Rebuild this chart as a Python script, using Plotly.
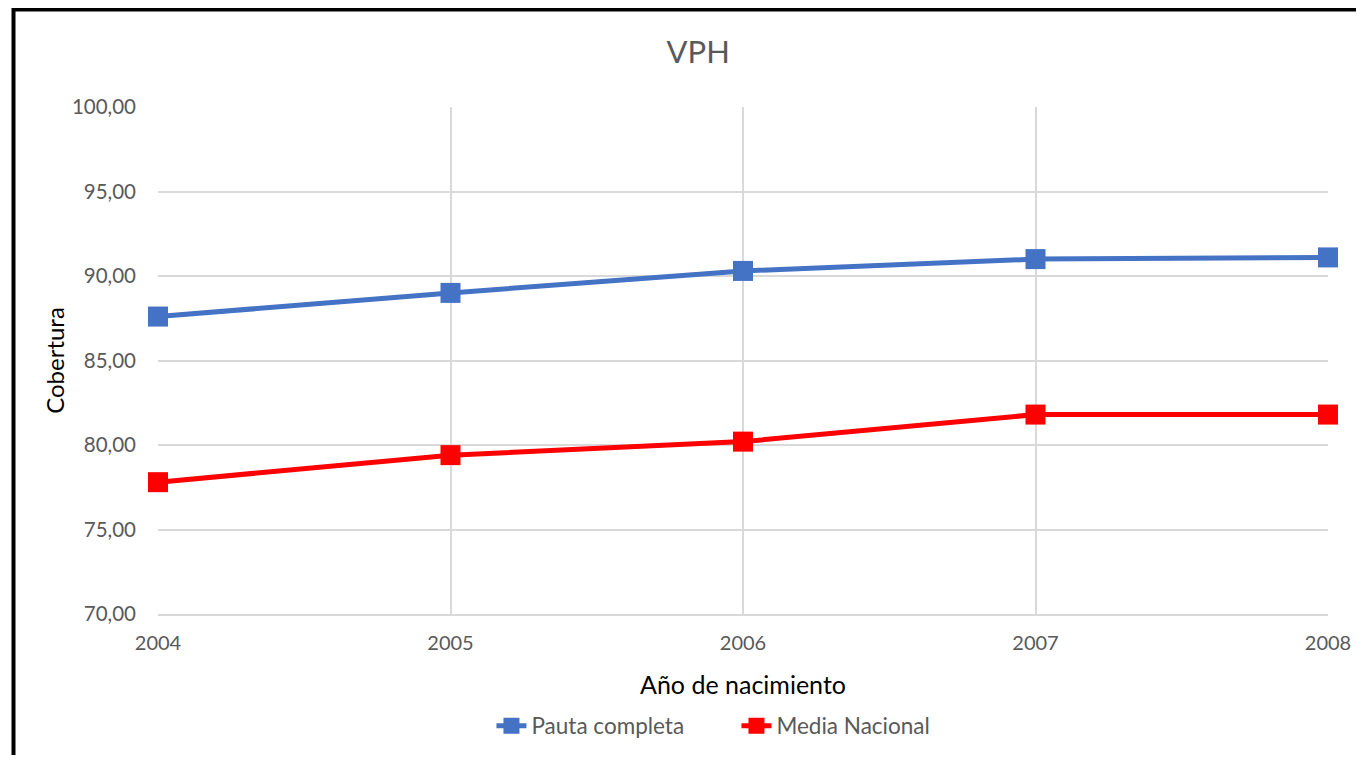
import plotly.graph_objects as go

years = [2004, 2005, 2006, 2007, 2008]
pauta_completa = [87.6, 89.0, 90.3, 91.0, 91.1]
media_nacional = [77.8, 79.4, 80.2, 81.8, 81.8]

BLUE = "#4472C4"
RED = "#FF0000"
GREY_TXT = "#595959"
GRID = "#D9D9D9"
FONT = "Lato, Calibri, sans-serif"

fig = go.Figure()
for name, vals, color in [
    ("Pauta completa", pauta_completa, BLUE),
    ("Media Nacional", media_nacional, RED),
]:
    fig.add_trace(go.Scatter(
        x=years, y=vals, name=name,
        mode="lines+markers",
        line=dict(color=color, width=5),
        marker=dict(symbol="square", size=20, color=color),
        cliponaxis=False,
    ))

# page body has an 8px margin, so the figure is a bit smaller than the window
fig.update_layout(
    width=1348, height=747,
    paper_bgcolor="white", plot_bgcolor="white",
    margin=dict(l=150, r=28, t=99, b=141, autoexpand=False),
    separators=",.",
    font=dict(family=FONT, color=GREY_TXT, size=20),
    title=dict(text="VPH", x=0.512, xanchor="center", y=0.941, yanchor="middle",
               font=dict(size=31, color=GREY_TXT)),
    legend=dict(orientation="h", x=0.285, xanchor="left", y=-0.221, yanchor="middle",
                font=dict(size=22.5, color=GREY_TXT),
                entrywidth=200, entrywidthmode="pixels"),
    showlegend=True,
)

fig.update_xaxes(
    range=[2004, 2008], dtick=1, tick0=2004, automargin=False,
    showgrid=True, gridcolor=GRID, gridwidth=1.5,
    showline=True, linecolor=GRID, linewidth=1.5,
    zeroline=False, ticks="", ticklabelstandoff=10,
    tickfont=dict(size=20, color=GREY_TXT),
    title=dict(text="Año de nacimiento", font=dict(size=25, color="black"), standoff=24),
)
fig.update_yaxes(
    range=[70, 100], dtick=5, tickformat=".2f", automargin=False,
    showgrid=True, gridcolor=GRID, gridwidth=1.5,
    showline=False, zeroline=False, ticks="", ticklabelstandoff=21,
    tickfont=dict(size=20.5, color=GREY_TXT),
    title=dict(text="Cobertura", font=dict(size=24, color="black"), standoff=0),
)

# black frame of the original chart box (only top and left edges visible)
fig.add_shape(type="line", xref="paper", yref="paper",
              x0=-0.123, x1=1.1, y0=1.1925, y1=1.1925,
              line=dict(color="black", width=4))
fig.add_shape(type="line", xref="paper", yref="paper",
              x0=-0.1235, x1=-0.1235, y0=1.2, y1=-0.35,
              line=dict(color="black", width=4))

fig.write_html("out.html")
